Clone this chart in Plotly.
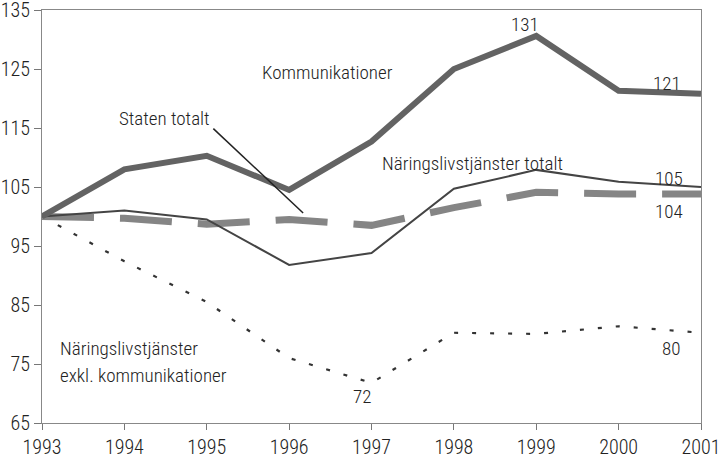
import plotly.graph_objects as go

years = [1993, 1994, 1995, 1996, 1997, 1998, 1999, 2000, 2001]
kommunikationer = [100, 108, 110.3, 104.5, 112.7, 125, 130.6, 121.3, 120.8]
naringsliv_totalt = [100, 101, 99.5, 91.8, 93.8, 104.7, 107.9, 105.9, 105]
staten_totalt = [100, 99.7, 98.7, 99.5, 98.5, 101.5, 104.1, 103.8, 103.8]
naringsliv_exkl = [100, 92.4, 85.5, 76, 71.8, 80.3, 80.1, 81.4, 80.3]

y_ticks = [65, 75, 85, 95, 105, 115, 125, 135]

FONT = "Roboto Condensed, DejaVu Sans Condensed, sans-serif"

fig = go.Figure()
fig.add_trace(go.Scatter(x=years, y=naringsliv_exkl, mode="lines",
                         line=dict(color="#333333", width=2.2, dash="4px,14px")))
fig.add_trace(go.Scatter(x=years, y=staten_totalt, mode="lines",
                         line=dict(color="#858585", width=7, dash="52px,26px")))
fig.add_trace(go.Scatter(x=years, y=naringsliv_totalt, mode="lines",
                         line=dict(color="#444444", width=2)))
fig.add_trace(go.Scatter(x=years, y=kommunikationer, mode="lines",
                         line=dict(color="#636363", width=6)))

ann = dict(showarrow=False, font=dict(family=FONT, size=19, color="#222222", weight=300))
fig.add_annotation(x=1996.46, y=124.4, text="Kommunikationer", **ann)
fig.add_annotation(x=1994.49, y=116.6, text="Staten totalt", **ann)
fig.add_annotation(x=1998.23, y=108.9, text="Näringslivstjänster totalt", **ann)
fig.add_annotation(x=1998.86, y=132.6, text="131", **ann)
fig.add_annotation(x=2000.59, y=122.6, text="121", **ann)
fig.add_annotation(x=2000.61, y=106.4, text="105", **ann)
fig.add_annotation(x=2000.61, y=100.8, text="104", **ann)
fig.add_annotation(x=2000.64, y=77.7, text="80", **ann)
fig.add_annotation(x=1996.88, y=69.5, text="72", **ann)
fig.add_annotation(x=1993.2, y=77.6, text="Näringslivstjänster", xanchor="left", **ann)
fig.add_annotation(x=1993.2, y=73.1, text="exkl. kommunikationer", xanchor="left", **ann)

fig.add_shape(type="line", x0=1995.08, y0=114.9, x1=1996.17, y1=100.6,
              line=dict(color="#222222", width=1.5))

tf = dict(family=FONT, size=20, color="#222222", weight=300)
fig.update_layout(
    width=719, height=462,
    margin=dict(l=42, r=18, t=10, b=39),
    paper_bgcolor="white", plot_bgcolor="white",
    showlegend=False,
    font=dict(family=FONT, size=20, color="#222222"),
)
fig.update_xaxes(range=[1993, 2001], tickvals=years, ticks="outside", ticklen=6,
                 tickcolor="#777777", showline=True, linecolor="#888888", linewidth=1.2,
                 mirror=True, showgrid=False, zeroline=False, ticklabeloverflow="allow",
                 automargin=False, tickfont=tf)
fig.update_yaxes(range=[65, 135], tickvals=y_ticks, ticks="outside", ticklen=7,
                 tickcolor="#777777", showline=True, linecolor="#888888", linewidth=1.2,
                 mirror=True, showgrid=False, zeroline=False, ticklabeloverflow="allow",
                 automargin=False, tickfont=tf)

fig.write_html("out.html", config={"displayModeBar": False},
               post_script="document.body.style.margin='0';")
